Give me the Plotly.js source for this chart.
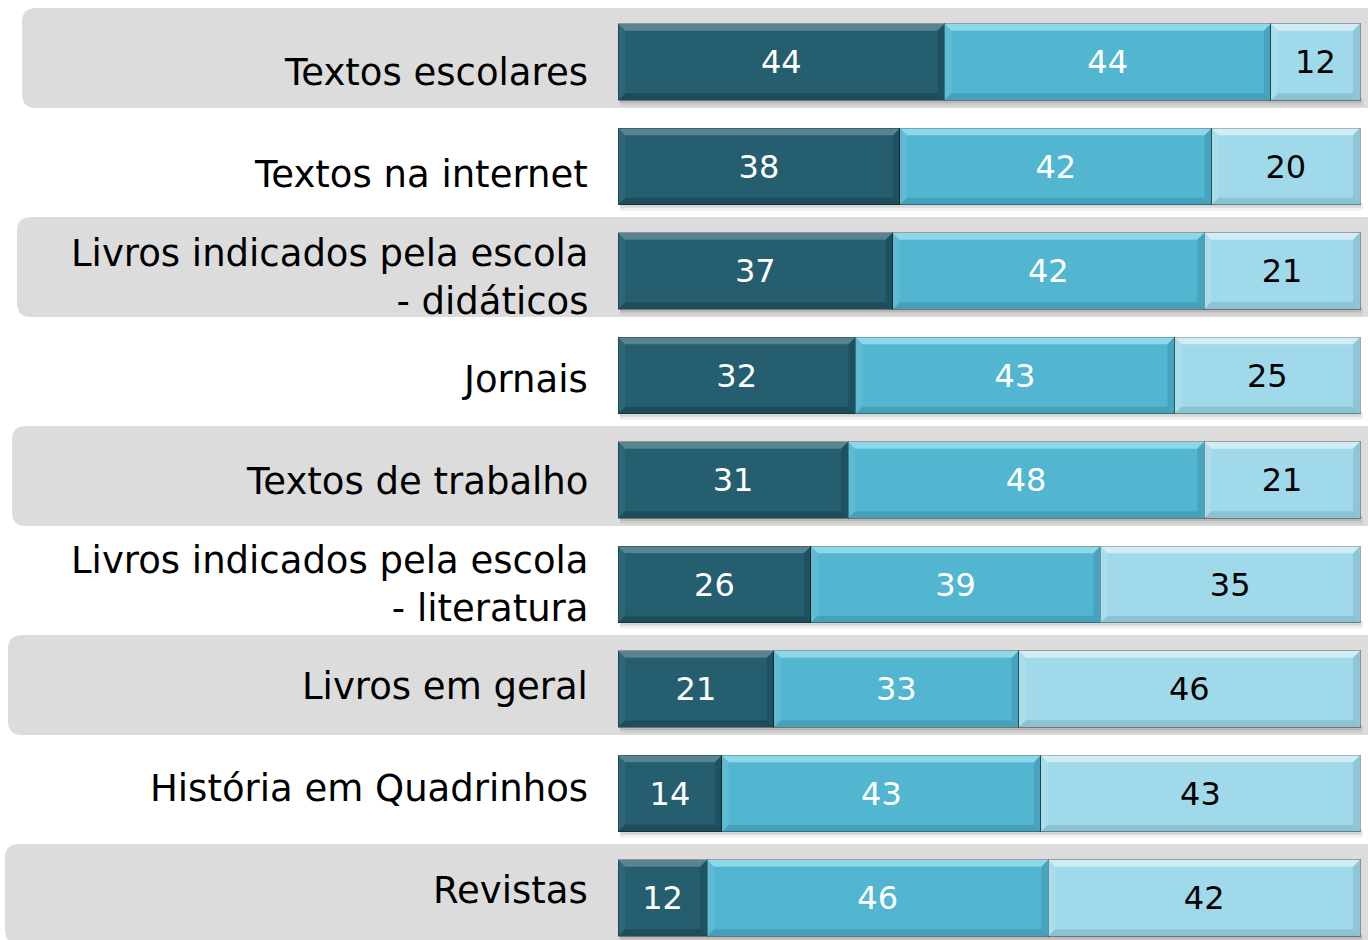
<!DOCTYPE html>
<html>
<head>
<meta charset="utf-8">
<script src="https://cdn.plot.ly/plotly-3.0.1.min.js"></script>
<style>
html,body{margin:0;padding:0;background:#fff;}
#chart{width:1368px;height:940px;}
</style>
</head>
<body>
<div id="chart"></div>
<script>
// ---- data ----
const categories = [
  'Textos escolares',
  'Textos na internet',
  'Livros indicados pela escola<br>- didáticos',
  'Jornais',
  'Textos de trabalho',
  'Livros indicados pela escola<br>- literatura',
  'Livros em geral',
  'História em Quadrinhos',
  'Revistas'
];
const serieA = [44, 38, 37, 32, 31, 26, 21, 14, 12];
const serieB = [44, 42, 42, 43, 48, 39, 33, 43, 46];
const serieC = [12, 20, 21, 25, 21, 35, 46, 43, 42];
const colors = ['#245E6F', '#52B6D1', '#A0D9E9'];
const textColors = ['#FFFFFF', '#FFFFFF', '#000000'];

// ---- geometry (pixels -> data) ----
const W = 1368, H = 940;
const x0px = 618, x100px = 1360;
const pxPerX = (x100px - x0px) / 100;
const row0px = 62, rowPitch = 104.5;
const xRange = [(0 - x0px) / pxPerX, (W - x0px) / pxPerX];
const yRange = [(H - row0px) / rowPitch, (0 - row0px) / rowPitch];
const px2x = p => (p - x0px) / pxPerX;
const dy = p => p / rowPitch;
const dx = p => p / pxPerX;

const idx = categories.map((c, i) => i);
const series = [serieA, serieB, serieC];
const barW = 0.73;

const traces = series.map((vals, s) => ({
  type: 'bar',
  orientation: 'h',
  y: idx,
  x: vals,
  width: barW,
  marker: {color: colors[s], line: {color: 'rgba(0,0,0,0.35)', width: 1}},
  text: vals.map(String),
  textposition: 'inside',
  insidetextanchor: 'middle',
  textangle: 0,
  constraintext: 'none',
  textfont: {family: 'DejaVu Sans, Verdana, sans-serif', size: 32, color: textColors[s]},
  hoverinfo: 'none',
  cliponaxis: false
}));

const shapes = [];
// grey rounded bands on alternate rows
const bandLeftPx = [22, 17, 12, 8, 5];
function roundRect(xa, xb, ya, yb, r) {
  const rx = dx(r), ry = dy(r);
  return `M${xa + rx},${ya} L${xb - rx},${ya} Q${xb},${ya} ${xb},${ya + ry} L${xb},${yb - ry} Q${xb},${yb} ${xb - rx},${yb} L${xa + rx},${yb} Q${xa},${yb} ${xa},${yb - ry} L${xa},${ya + ry} Q${xa},${ya} ${xa + rx},${ya} Z`;
}
idx.filter(i => i % 2 === 0).forEach((i, k) => {
  const yc = i - dy(4);
  shapes.push({
    type: 'path', layer: 'below', xref: 'x', yref: 'y',
    path: roundRect(px2x(bandLeftPx[k]), px2x(1368 + 14), yc - dy(50), yc + dy(50), 14),
    fillcolor: '#DCDCDC', line: {width: 0}
  });
});
// soft shadows under bars
idx.forEach(i => {
  const yb = i + barW / 2;
  [[0.10, 3], [0.06, 6]].forEach(([a, off]) => {
    shapes.push({
      type: 'rect', layer: 'below', xref: 'x', yref: 'y',
      x0: dx(2), x1: 100 + dx(off / 2), y0: yb - dy(2), y1: yb + dy(off),
      fillcolor: `rgba(0,0,0,${a})`, line: {width: 0}
    });
  });
});
// bevels
const bv = 7;
const bevelFill = [
  {top: 'rgba(255,255,255,0.24)', left: 'rgba(255,255,255,0.06)', bottom: 'rgba(0,0,0,0.18)', right: 'rgba(0,0,0,0.12)'},
  {top: 'rgba(200,250,255,0.5)', left: 'rgba(255,255,255,0.08)', bottom: 'rgba(0,40,60,0.15)', right: 'rgba(0,40,60,0.12)'},
  {top: 'rgba(255,255,255,0.5)', left: 'rgba(255,255,255,0.12)', bottom: 'rgba(0,40,60,0.12)', right: 'rgba(0,40,60,0.10)'}
];
idx.forEach(i => {
  let start = 0;
  series.forEach((vals, s) => {
    const xa = start, xb = start + vals[i];
    start = xb;
    const yt = i - barW / 2, yb = i + barW / 2;
    const bx = dx(bv), by = dy(bv);
    const f = bevelFill[s];
    const poly = pts => 'M' + pts.map(p => p.join(',')).join(' L') + ' Z';
    shapes.push({type: 'path', layer: 'above', xref: 'x', yref: 'y', line: {width: 0}, fillcolor: f.top,
      path: poly([[xa, yt], [xb, yt], [xb - bx, yt + by], [xa + bx, yt + by]])});
    shapes.push({type: 'path', layer: 'above', xref: 'x', yref: 'y', line: {width: 0}, fillcolor: f.bottom,
      path: poly([[xa, yb], [xb, yb], [xb - bx, yb - by], [xa + bx, yb - by]])});
    shapes.push({type: 'path', layer: 'above', xref: 'x', yref: 'y', line: {width: 0}, fillcolor: f.left,
      path: poly([[xa, yt], [xa + bx, yt + by], [xa + bx, yb - by], [xa, yb]])});
    shapes.push({type: 'path', layer: 'above', xref: 'x', yref: 'y', line: {width: 0}, fillcolor: f.right,
      path: poly([[xb, yt], [xb - bx, yt + by], [xb - bx, yb - by], [xb, yb]])});
  });
});

// category labels
const labelTopPx = 72.5, labelPitch = 102.3;
const annotations = categories.map((c, i) => ({
  text: c,
  xref: 'x', yref: 'y',
  x: 0, xanchor: 'right', xshift: -28,
  y: (labelTopPx + i * labelPitch - row0px) / rowPitch,
  yanchor: 'middle',
  align: 'right',
  showarrow: false,
  font: {family: 'DejaVu Sans, Verdana, sans-serif', size: 37, color: '#000'}
}));

const layout = {
  width: W, height: H,
  margin: {l: 0, r: 0, t: 0, b: 0},
  paper_bgcolor: '#FFFFFF',
  plot_bgcolor: 'rgba(0,0,0,0)',
  barmode: 'stack',
  showlegend: false,
  xaxis: {range: xRange, visible: false, fixedrange: true},
  yaxis: {range: yRange, visible: false, fixedrange: true},
  shapes: shapes,
  annotations: annotations
};

Plotly.newPlot('chart', traces, layout, {displayModeBar: false, staticPlot: true});
</script>
</body>
</html>
